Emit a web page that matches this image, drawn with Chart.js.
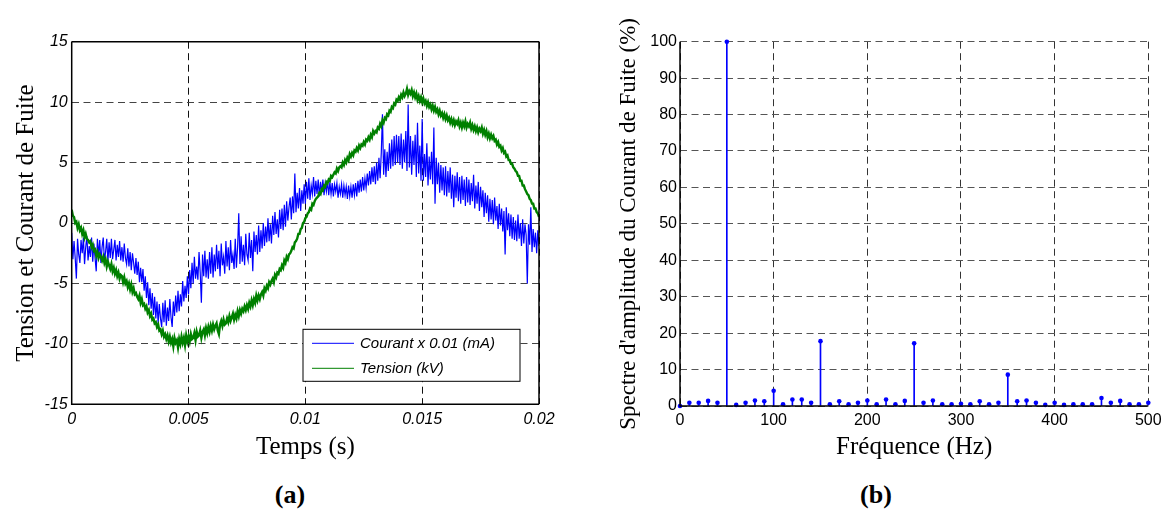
<!DOCTYPE html>
<html lang="fr">
<head>
<meta charset="utf-8">
<title>Courant de fuite</title>
<script src="https://cdn.jsdelivr.net/npm/chart.js@4.4.1/dist/chart.umd.min.js"></script>
<style>
  html, body { margin: 0; padding: 0; background: #fff; }
  #page { position: relative; width: 1172px; height: 515px; overflow: hidden; }
  canvas { position: absolute; top: 0; }
  #chart-a { left: 0; }
  #chart-b { left: 585px; }
  .tag { position: absolute; top: 480px; font: bold 26px 'Liberation Serif', 'Times New Roman', serif; color: #000; transform: translateX(-50%); }
</style>
</head>
<body>
<div id="page">
  <canvas id="chart-a" width="585" height="470"></canvas>
  <canvas id="chart-b" width="587" height="470"></canvas>
  <div class="tag" style="left:290px">(a)</div>
  <div class="tag" style="left:876px">(b)</div>
</div>
<script>
// (a) signals over one period, one sample every 0.05 ms
const sampleStep = 0.00005

// courant de fuite (x 0.01 mA), 20 samples per ms
const courant = [
  -0.8, -3.0, -1.5, -2.9, -4.6, -1.3, -2.6, -3.3, -1.4, -2.5, -1.2, -3.4, -2.0, -1.1, -3.1, -1.9, -2.8, -1.2, -3.2, -1.7,
  -2.9, -4.0, -1.3, -2.7, -1.4, -3.3, -2.0, -1.2, -3.1, -2.4, -1.3, -3.2, -1.6, -2.9, -1.3, -3.0, -2.2, -1.4, -3.1, -1.8,
  -2.8, -1.5, -3.1, -2.0, -3.2, -1.7, -2.9, -3.4, -2.1, -3.6, -2.4, -3.9, -2.5, -3.3, -4.2, -2.9, -4.3, -3.2, -4.9, -3.7,
  -4.9, -3.8, -5.6, -4.4, -6.2, -4.9, -6.8, -5.4, -7.1, -5.8, -7.6, -6.1, -7.9, -6.5, -8.3, -6.7, -7.9, -8.6, -6.6, -8.2,
  -6.4, -8.5, -7.0, -8.1, -6.3, -7.8, -8.6, -6.5, -7.7, -6.0, -7.4, -5.6, -7.3, -5.9, -6.9, -4.8, -6.5, -5.2, -6.2, -4.4,
  -5.9, -3.9, -5.4, -3.3, -5.0, -2.8, -4.6, -3.6, -4.7, -2.4, -4.1, -6.6, -2.6, -4.4, -2.3, -4.5, -3.0, -4.6, -2.4, -4.2,
  -2.0, -4.5, -2.6, -4.0, -1.8, -3.8, -2.3, -4.4, -1.7, -3.5, -2.8, -4.2, -1.5, -3.6, -2.0, -3.9, -1.4, -3.3, -2.6, -3.8,
  -1.3, -3.7, -2.0, 0.8, -3.4, -1.1, -3.2, -1.8, -3.5, -0.9, -2.6, -3.1, -0.8, -2.9, -1.4, -4.0, -0.7, -2.4, -1.0, -2.6,
  -0.2, -2.4, -0.6, -2.1, 0.0, -1.9, -0.3, -1.6, 0.4, -1.5, -0.1, -1.7, 0.6, -1.0, 0.9, -0.9, 0.3, -1.2, 1.1, -0.5,
  1.2, -0.6, 1.5, -0.3, 1.8, 0.2, 1.3, 2.1, 0.3, 2.2, 0.8, 4.1, 0.9, 2.5, 1.2, 2.9, 1.0, 2.7, 1.6, 3.2,
  1.6, 3.4, 2.0, 3.7, 1.9, 3.1, 2.4, 3.8, 2.2, 3.5, 2.4, 3.6, 2.2, 3.4, 2.5, 3.6, 2.3, 3.3, 2.6, 3.5,
  2.3, 3.4, 2.4, 3.3, 2.2, 3.2, 2.6, 3.3, 2.1, 3.0, 2.4, 3.2, 2.1, 3.1, 2.3, 3.0, 2.0, 3.1, 2.2, 3.0,
  2.1, 3.2, 2.3, 3.3, 2.2, 3.5, 2.5, 3.6, 2.6, 3.8, 2.7, 3.7, 2.9, 4.1, 3.1, 4.3, 3.2, 4.6, 3.4, 4.7,
  3.2, 5.0, 3.5, 5.4, 3.7, 5.8, 9.0, 4.0, 6.1, 3.8, 5.9, 4.3, 6.6, 4.5, 6.9, 4.7, 7.2, 4.8, 7.3, 5.0,
  7.2, 4.8, 7.4, 4.5, 6.9, 5.0, 7.6, 4.3, 9.8, 4.6, 7.2, 4.0, 6.8, 4.8, 7.3, 3.8, 8.3, 4.1, 6.4, 3.5,
  8.6, 3.5, 5.7, 3.8, 6.6, 3.1, 5.5, 3.6, 5.9, 3.2, 7.9, 1.6, 5.4, 3.2, 5.0, 2.5, 4.8, 2.7, 4.6, 2.3,
  4.7, 2.2, 4.3, 2.5, 4.6, 2.0, 4.0, 1.3, 3.9, 2.1, 4.2, 1.8, 3.8, 1.6, 3.9, 1.9, 3.6, 1.4, 3.8, 1.7,
  3.6, 1.5, 3.3, 1.8, 4.0, 1.2, 3.1, 1.6, 3.4, 1.0, 3.0, 1.3, 2.7, 0.5, 2.5, 0.8, 2.3, 0.1, 2.0, 0.3,
  1.9, -0.1, 2.1, 0.2, 1.4, -0.5, 1.6, -0.2, 1.2, -0.7, 1.0, -2.6, 1.3, -0.6, 0.8, -1.1, 0.7, -1.3, 0.5, -1.4,
  0.2, -1.5, 0.7, -1.3, 0.0, -1.9, 0.3, -1.7, -0.1, -1.0, -5.0, -0.1, -1.8, 1.3, -2.4, -0.5, -2.0, -0.8, -2.5, -0.6,
  -1.9,
]

// tension (kV), same sampling
const tension = [
  1.1, 0.6, 0.5, 0.0, 0.1, -0.4, -0.1, -0.6, -0.4, -0.9, -0.6, -1.2, -0.9, -1.3, -1.4, -1.6, -1.5, -2.0, -1.8, -2.3,
  -2.2, -2.7, -2.4, -2.9, -2.6, -2.8, -3.1, -2.8, -3.3, -3.0, -3.6, -3.2, -3.5, -3.8, -3.4, -4.0, -3.7, -4.2, -3.9, -4.4,
  -4.1, -4.6, -4.3, -4.4, -4.9, -4.5, -5.0, -4.8, -5.3, -5.0, -5.5, -5.1, -5.7, -5.4, -5.9, -5.8, -6.1, -6.3, -6.0, -6.6,
  -6.3, -6.8, -6.7, -7.1, -6.9, -7.4, -7.2, -7.7, -7.5, -8.0, -7.9, -8.3, -8.2, -8.6, -8.4, -8.9, -8.8, -9.2, -8.9, -9.4,
  -9.2, -9.6, -9.3, -9.8, -9.4, -9.9, -9.6, -10.2, -9.5, -9.9, -9.7, -10.3, -9.6, -10.0, -9.4, -9.9, -9.5, -10.1, -9.3, -9.8,
  -9.4, -9.8, -9.2, -9.6, -9.5, -9.1, -9.7, -9.0, -9.4, -9.3, -8.9, -9.5, -9.0, -8.8, -9.3, -8.7, -9.1, -8.6, -9.0, -8.5,
  -8.9, -8.4, -8.8, -8.5, -8.3, -8.9, -9.2, -8.4, -8.1, -8.5, -8.0, -8.4, -8.3, -7.9, -8.2, -7.7, -8.1, -7.8, -7.5, -8.0,
  -7.6, -7.9, -7.3, -7.7, -7.2, -7.5, -7.1, -7.3, -6.9, -7.2, -6.8, -7.1, -6.6, -6.9, -6.4, -6.8, -6.3, -6.6, -6.0, -6.4,
  -6.0, -6.3, -5.9, -5.7, -6.0, -5.4, -5.6, -5.2, -5.4, -4.9, -5.1, -4.8, -4.6, -4.9, -4.3, -4.5, -4.1, -4.2, -3.8, -3.9,
  -3.5, -3.7, -3.1, -3.3, -2.8, -3.0, -2.6, -2.5, -2.3, -2.0, -2.1, -1.6, -1.5, -1.3, -0.9, -0.9, -0.5, -0.4, 0.0, 0.1,
  0.4, 0.5, 0.8, 0.9, 1.2, 1.1, 1.6, 1.5, 1.8, 2.0, 2.1, 2.2, 2.5, 2.4, 2.8, 2.7, 3.1, 3.0, 3.4, 3.3,
  3.6, 3.5, 3.9, 3.8, 4.0, 4.2, 4.1, 4.5, 4.3, 4.6, 4.7, 4.6, 5.0, 4.8, 5.2, 5.0, 5.4, 5.2, 5.7, 5.5,
  5.8, 5.6, 6.0, 5.9, 6.2, 6.0, 6.4, 6.2, 6.5, 6.4, 6.7, 6.5, 6.9, 6.8, 7.1, 6.9, 7.3, 7.1, 7.6, 7.4,
  7.6, 7.5, 7.9, 7.8, 8.2, 8.0, 8.5, 8.3, 8.7, 8.6, 9.0, 8.9, 9.3, 9.2, 9.6, 9.5, 9.9, 9.8, 10.2, 10.1,
  10.4, 10.2, 10.6, 10.4, 10.8, 10.5, 10.7, 11.1, 10.6, 10.9, 10.7, 11.0, 10.5, 10.8, 10.4, 10.7, 10.2, 10.5, 10.1, 10.4,
  10.0, 10.3, 9.9, 10.1, 9.7, 10.0, 9.6, 9.8, 9.4, 9.7, 9.3, 9.6, 9.2, 9.4, 9.0, 9.3, 8.9, 9.1, 8.7, 9.0,
  8.6, 8.9, 8.5, 8.7, 8.3, 8.6, 8.2, 8.5, 8.1, 8.4, 8.2, 8.5, 8.0, 8.3, 7.9, 8.3, 8.0, 8.4, 7.9, 8.2,
  8.0, 8.3, 7.8, 8.1, 7.7, 8.0, 7.6, 7.9, 7.5, 7.8, 7.6, 7.9, 7.4, 7.7, 7.3, 7.6, 7.1, 7.4, 7.0, 7.3,
  7.0, 7.2, 6.8, 6.9, 6.5, 6.7, 6.3, 6.4, 6.0, 6.2, 5.8, 5.9, 5.5, 5.6, 5.2, 5.2, 4.9, 4.9, 4.6, 4.5,
  4.3, 4.2, 3.9, 3.9, 3.5, 3.5, 3.1, 3.1, 2.8, 2.6, 2.4, 2.3, 2.0, 1.9, 1.6, 1.6, 1.2, 1.2, 0.9, 0.8,
  0.5,
]

const timeTicks = [0, 0.005, 0.01, 0.015, 0.02]
const timeTickLabels = ['0', '0.005', '0.01', '0.015', '0.02']
const levelTicks = [-15, -10, -5, 0, 5, 10, 15]

// (b) amplitude spectrum of the leakage current, % of the 50 Hz component
const freqHz = [
  0, 10, 20, 30, 40, 50, 60, 70, 80, 90, 100, 110, 120, 130, 140, 150, 160, 170, 180, 190,
  200, 210, 220, 230, 240, 250, 260, 270, 280, 290, 300, 310, 320, 330, 340, 350, 360, 370, 380, 390,
  400, 410, 420, 430, 440, 450, 460, 470, 480, 490, 500,
]
const spectre = [
  0, 0.9, 0.9, 1.4, 0.9, 100, 0.3, 0.9, 1.5, 1.3, 4.2, 0.5, 1.8, 1.8, 0.9, 17.8, 0.5, 1.3, 0.5, 0.9,
  1.5, 0.5, 1.8, 0.5, 1.4, 17.2, 0.9, 1.5, 0.5, 0.5, 0.6, 0.5, 1.3, 0.5, 0.9, 8.6, 1.3, 1.5, 0.9, 0.3,
  0.9, 0.3, 0.5, 0.5, 0.5, 2.2, 0.9, 1.4, 0.5, 0.5, 0.9,
]
const freqTicks = [0, 100, 200, 300, 400, 500]
const pctTicks = [0, 10, 20, 30, 40, 50, 60, 70, 80, 90, 100]

const BLUE = '#0000ff'
const GREEN = '#008000'
const $ = (id) => document.getElementById(id)
const temps = courant.map((_, i) => i * sampleStep)
const toPoints = (xs, ys) => ys.map((y, i) => ({ x: xs[i], y }))
const fixedTicks = (list) => (scale) => { scale.ticks = list.map((value) => ({ value })) }

const tickItalic = { family: "'Liberation Sans', Arial, sans-serif", size: 16, style: 'italic' }
const tickPlain = { family: "'Liberation Sans', Arial, sans-serif", size: 16 }
const serif = (size) => ({ family: "'Liberation Serif', 'Times New Roman', serif", size })

// solid axes box; sides = extra edges to stroke besides left and bottom
const frame = (sides) => ({
  id: 'frame',
  afterDraw(chart) {
    const { ctx, chartArea: a } = chart
    ctx.save()
    ctx.strokeStyle = '#000'
    ctx.lineWidth = 1.5
    ctx.beginPath()
    if (sides.includes('top')) { ctx.moveTo(a.left, a.top); ctx.lineTo(a.right, a.top) }
    if (sides.includes('right')) { ctx.moveTo(a.right, a.top); ctx.lineTo(a.right, a.bottom) }
    ctx.moveTo(a.left, a.top); ctx.lineTo(a.left, a.bottom); ctx.lineTo(a.right, a.bottom)
    ctx.stroke()
    ctx.restore()
  },
})

// boxed legend inside the lower right corner of panel (a)
const insetLegend = {
  id: 'insetLegend',
  afterDraw(chart) {
    const { ctx, chartArea: a } = chart
    const w = 217, h = 52
    const x0 = a.right - 19 - w, y0 = a.bottom - 23 - h
    ctx.save()
    ctx.fillStyle = '#fff'
    ctx.fillRect(x0, y0, w, h)
    ctx.strokeStyle = '#000'
    ctx.lineWidth = 1
    ctx.strokeRect(x0, y0, w, h)
    const rows = [chart.data.datasets[0], chart.data.datasets[1]]
    rows.forEach((ds, k) => {
      const y = y0 + 14 + k * 25
      ctx.strokeStyle = ds.borderColor
      ctx.lineWidth = 1
      ctx.beginPath(); ctx.moveTo(x0 + 9, y); ctx.lineTo(x0 + 51, y); ctx.stroke()
      ctx.fillStyle = '#000'
      ctx.font = "italic 15px 'Liberation Sans', Arial, sans-serif"
      ctx.textBaseline = 'middle'
      ctx.fillText(ds.label, x0 + 57, y + 1)
    })
    ctx.restore()
  },
}

new Chart($('chart-a'), {
  type: 'scatter',
  data: {
    datasets: [
      { label: 'Courant x 0.01 (mA)', data: toPoints(temps, courant), borderColor: BLUE, borderWidth: 1.2, showLine: true, pointRadius: 0, order: 1 },
      { label: 'Tension (kV)', data: toPoints(temps, tension), borderColor: GREEN, borderWidth: 2.4, showLine: true, pointRadius: 0, order: 0 },
    ],
  },
  options: {
    responsive: false,
    animation: false,
    events: [],
    layout: { padding: { top: 41.7, right: 46, bottom: 0, left: 0 } },
    plugins: { legend: { display: false }, tooltip: { enabled: false } },
    scales: {
      x: {
        type: 'linear', min: 0, max: 0.02,
        afterBuildTicks: fixedTicks(timeTicks),
        afterFit: (s) => { s.height = 65.7 },
        grid: { color: '#111', drawTicks: false },
        border: { display: false, dash: [7, 4.5] },
        ticks: { padding: 6, color: '#000', font: tickItalic, maxRotation: 0, autoSkip: false, callback: (v, i) => timeTickLabels[i] },
        title: { display: true, text: 'Temps (s)', color: '#000', font: serif(25), padding: { top: 0, bottom: 8 } },
      },
      y: {
        min: -15, max: 15,
        afterBuildTicks: fixedTicks(levelTicks),
        afterFit: (s) => { s.width = 71.7 },
        grid: { color: '#444', drawTicks: false },
        border: { display: false, dash: [7, 4.5] },
        ticks: { padding: 4, color: '#000', font: tickItalic },
        title: { display: true, text: 'Tension et Courant de Fuite', color: '#000', font: serif(25), padding: { top: 11, bottom: 0 } },
      },
    },
  },
  plugins: [frame(['top', 'right']), insetLegend],
})

new Chart($('chart-b'), {
  type: 'scatter',
  data: {
    datasets: [
      { type: 'bar', data: toPoints(freqHz, spectre), backgroundColor: BLUE, barThickness: 1, order: 1 },
      { data: toPoints(freqHz, spectre), backgroundColor: BLUE, pointRadius: 2.3, pointBorderWidth: 0, clip: false, order: 0 },
    ],
  },
  options: {
    responsive: false,
    animation: false,
    events: [],
    layout: { padding: { top: 41.7, right: 23.7, bottom: 0, left: 0 } },
    plugins: { legend: { display: false }, tooltip: { enabled: false } },
    scales: {
      x: {
        type: 'linear', min: 0, max: 500, offset: false,
        afterBuildTicks: fixedTicks(freqTicks),
        afterFit: (s) => { s.height = 64 },
        grid: { color: '#333', drawTicks: false, offset: false },
        border: { display: false, dash: [7, 4.5] },
        ticks: { padding: 5.4, color: '#000', font: tickPlain, maxRotation: 0, autoSkip: false },
        title: { display: true, text: 'Fréquence (Hz)', color: '#000', font: serif(25), padding: { top: 0, bottom: 8 } },
      },
      y: {
        min: 0, max: 100,
        afterBuildTicks: fixedTicks(pctTicks),
        afterFit: (s) => { s.width = 95 },
        grid: { color: '#555', drawTicks: false },
        border: { display: false, dash: [7, 4.5] },
        ticks: { padding: 3, color: '#000', font: tickPlain },
        title: { display: true, text: "Spectre d'amplitude du Courant de Fuite (%)", color: '#000', font: serif(23), padding: { top: 30, bottom: 0 } },
      },
    },
  },
  plugins: [frame([])],
})
</script>
</body>
</html>
